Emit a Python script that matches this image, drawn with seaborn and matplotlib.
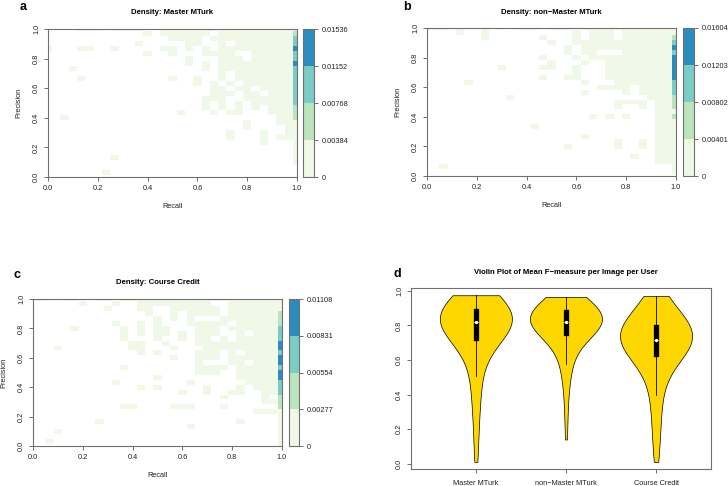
import numpy as np
import pandas as pd
import matplotlib
matplotlib.use("Agg")
import matplotlib.pyplot as plt
from matplotlib.colors import ListedColormap, BoundaryNorm
from matplotlib.cm import ScalarMappable
import seaborn as sns

plt.rcParams['font.family'] = ['Liberation Sans', 'DejaVu Sans']

# density grids: 31 x 31 cells, row 0 = precision 1.0, column 0 = recall 0.0
# '.' = empty cell, '1'..'4' = colour class of the density
master_rows = [
    "....111.1111..11111111111111111",
    "............1.111111.1111111112",
    "...............1111.11111111113",
    "...........1.....11..1.11111113",
    "1...11..1.....11.1.1.1111111114",
    "............1..1...1111..111113",
    ".................1...111.111113",
    ".................1.1.1111111114",
    "...1...............1.1111111113",
    ".....................1.11111113",
    "....1..........1..1..1.11111113",
    "..................1.1.1.1111113",
    "....................11.11.11113",
    "....................111.11.1113",
    "...................111..1111113",
    "...................1.1.1.111113",
    "...................1.1.1.1.1112",
    "................1...1.11...1112",
    "..1.........................112",
    "........................1...111",
    "........................1....11",
    "......................1...1..11",
    "......................1...1.111",
    "..........................1...1",
    "..............................1",
    "..............................1",
    "........1.....................1",
    "..............................1",
    "...............................",
    ".......1.......................",
    "...............................",
]

nonmaster_rows = [
    "111.1..1.1.111.111.111111111111",
    "....1..1..........1.111.1111111",
    ".......1......1...1.111.1111112",
    "...............1..1111111111113",
    ".................1.111111111114",
    ".................1.11...1111113",
    "..............1...1.11111111114",
    "...............1...1..111111114",
    ".........1....11..1...111111114",
    "..................1...111111114",
    "..............1..11...111111114",
    ".....1.............1...11111113",
    ".....................1111.11113",
    "...................1....1.11113",
    "..........1................1112",
    ".......................1111.112",
    ".......................1..1.112",
    "............................111",
    "....................1.1.1...112",
    "............................111",
    ".............1..............111",
    "............................111",
    "...................1........111",
    ".......................1..1.111",
    ".................1.....1..1.111",
    "............................111",
    ".........................1..111",
    "............................111",
    "..1...........................1",
    "..............................1",
    "...............................",
]

course_rows = [
    "111.11..11.11111111111111111111",
    "......1...1..111111111..1111111",
    ".........1...11..111111.1111111",
    "..............1..1.1111.1111112",
    "...............1.1.1...11111112",
    "..........1..1.1...11111.111112",
    ".....1.....1.1.11...111.1111113",
    "...........1.1.11.1.111..1.1113",
    "...........1...1..1.11.1.111113",
    "............11..1...11111111114",
    "...1........11...1...1111111114",
    ".............1.1....111.1.11113",
    ".................1..111.1111114",
    "....................1...11.1114",
    "...........1........1111.111113",
    "....................111..111114",
    "...............1.........111114",
    "..........1........1......11113",
    ".............1.1.....1...1.1113",
    "..................1..1..11..113",
    ".......................1....1.2",
    "............................112",
    "...........11....111...1......2",
    "...........................1111",
    "..............................1",
    "........1................1....1",
    "...................1..........1",
    "...1..........................1",
    "..............................1",
    "..1...........................1",
    "..............................1",
]

master_breaks = [0, 0.00384, 0.00768, 0.01152, 0.01536]
nonmaster_breaks = [0, 0.00401, 0.00802, 0.01203, 0.01604]
course_breaks = [0, 0.00277, 0.00554, 0.00831, 0.01108]

axis_ticks = [0.0, 0.2, 0.4, 0.6, 0.8, 1.0]

# mean F-measure per image per user
groups = ["Master MTurk", "non\u2212Master MTurk", "Course Credit"]
f_master = [0.01, 0.10, 0.18, 0.25, 0.31, 0.36, 0.40, 0.44, 0.47,
            0.51, 0.54, 0.57, 0.60, 0.62, 0.64, 0.66, 0.68, 0.70, 0.72,
            0.725, 0.73, 0.74, 0.745, 0.75, 0.755, 0.76, 0.765, 0.77, 0.775,
            0.78, 0.785, 0.79, 0.79, 0.795, 0.80, 0.80, 0.805, 0.81, 0.81, 0.815,
            0.82, 0.82, 0.825, 0.83, 0.83, 0.835, 0.84, 0.84, 0.845, 0.85,
            0.85, 0.855, 0.86, 0.86, 0.865, 0.87, 0.87, 0.875, 0.88, 0.88,
            0.885, 0.89, 0.895, 0.90, 0.905, 0.91, 0.915, 0.92, 0.925, 0.93,
            0.935, 0.94, 0.945, 0.95, 0.955, 0.96, 0.965, 0.97, 0.97, 0.975]
f_nonmaster = [0.14, 0.26, 0.35, 0.42, 0.47, 0.51, 0.54,
               0.575, 0.59, 0.61, 0.63, 0.65, 0.67, 0.69, 0.70, 0.71, 0.72, 0.73, 0.74,
               0.75, 0.755, 0.76, 0.765, 0.77, 0.775, 0.78, 0.785, 0.79, 0.79,
               0.795, 0.80, 0.80, 0.805, 0.805, 0.81, 0.81, 0.815, 0.815, 0.82, 0.82,
               0.82, 0.825, 0.825, 0.83, 0.83, 0.835, 0.84, 0.84, 0.845, 0.85,
               0.85, 0.855, 0.855, 0.86, 0.86, 0.865, 0.865, 0.87, 0.87, 0.875,
               0.88, 0.885, 0.89, 0.89, 0.895, 0.90, 0.905, 0.91, 0.915, 0.92,
               0.925, 0.93, 0.935, 0.94, 0.945, 0.95, 0.955, 0.96, 0.96, 0.965]
f_course = [0.01, 0.07, 0.13, 0.18, 0.23, 0.27, 0.31, 0.35,
            0.395, 0.42, 0.45, 0.48, 0.50, 0.52, 0.54, 0.56, 0.58, 0.60, 0.615, 0.625,
            0.635, 0.64, 0.645, 0.65, 0.655, 0.66, 0.665, 0.67, 0.675, 0.68,
            0.685, 0.69, 0.69, 0.695, 0.70, 0.70, 0.705, 0.71, 0.71, 0.715,
            0.72, 0.72, 0.725, 0.73, 0.73, 0.735, 0.74, 0.745, 0.75, 0.75,
            0.755, 0.76, 0.765, 0.77, 0.77, 0.775, 0.78, 0.785, 0.785, 0.79,
            0.795, 0.80, 0.81, 0.815, 0.82, 0.83, 0.835, 0.84, 0.85, 0.86,
            0.865, 0.87, 0.88, 0.89, 0.90, 0.91, 0.92, 0.935, 0.95, 0.97]

GNBU4 = ['#f0f9e8', '#bae4bc', '#7bccc4', '#2b8cbe']
cmap = ListedColormap(GNBU4)
W, H = 728, 486
TXT = '#222222'
EDGE = '#707070'
SMALL = 5.3


def rect(x0, y0, x1, y1):
    """pixel box (top-left origin) -> figure fraction"""
    return [x0 / W, 1 - y1 / H, (x1 - x0) / W, (y1 - y0) / H]


def r_style(ax):
    for s in ax.spines.values():
        s.set_visible(True)
        s.set_color(EDGE)
        s.set_linewidth(0.8)
    ax.tick_params(direction='out', length=3.2, width=0.6, color='#555555',
                   labelsize=SMALL, labelcolor=TXT, pad=2.5)
    for lab in ax.get_yticklabels():
        lab.set_rotation(90)
        lab.set_va('center')


def density_panel(fig, ax_box, cb_box, rows, breaks, title, letter, title_xy, letter_xy):
    ax = fig.add_axes(rect(*ax_box))
    vals = np.array([[np.nan if c == '.' else float(c) for c in r] for r in rows])
    sns.heatmap(vals, ax=ax, cmap=cmap, vmin=0.5, vmax=4.5, cbar=False,
                xticklabels=False, yticklabels=False)
    n = vals.shape[1] - 1
    ax.set_xlim(0.5, n + 0.5)
    ax.set_ylim(n + 0.5, 0.5)
    ax.set_xticks([0.5 + n * t for t in axis_ticks])
    ax.set_xticklabels([f"{t:.1f}" for t in axis_ticks])
    ax.set_yticks([0.5 + n * (1 - t) for t in axis_ticks])
    ax.set_yticklabels([f"{t:.1f}" for t in axis_ticks])
    ax.set_xlabel("Recall", fontsize=SMALL, color=TXT, labelpad=8)
    ax.set_ylabel("Precision", fontsize=SMALL, color=TXT, labelpad=8)
    r_style(ax)

    cax = fig.add_axes(rect(*cb_box))
    sm = ScalarMappable(norm=BoundaryNorm(breaks, cmap.N), cmap=cmap)
    cb = fig.colorbar(sm, cax=cax, ticks=breaks)
    cb.ax.set_yticklabels([f"{b:g}" for b in breaks])
    cb.outline.set_edgecolor(EDGE)
    cb.outline.set_linewidth(0.8)
    cax.tick_params(direction='out', length=3.2, width=0.6, color='#555555',
                    labelsize=SMALL, labelcolor=TXT, pad=2.5)

    fig.text(title_xy[0] / W, 1 - title_xy[1] / H, title, ha='center', va='center',
             fontsize=5.6, fontweight='bold', color='black')
    fig.text(letter_xy[0] / W, 1 - letter_xy[1] / H, letter, ha='center', va='center',
             fontsize=9, fontweight='bold', color='black')
    return ax


fig = plt.figure(figsize=(7.28, 4.86), dpi=100)

density_panel(fig, (48, 29, 297, 177), (303, 29, 314, 177), master_rows, master_breaks,
              "Density: Master MTurk", "a", (172, 13), (23, 7))
density_panel(fig, (427, 28, 676, 176), (683, 28, 694, 176), nonmaster_rows, nonmaster_breaks,
              "Density: non\u2212Master MTurk", "b", (551, 12), (407, 7))
density_panel(fig, (33, 299, 282, 446), (289, 299, 299, 446), course_rows, course_breaks,
              "Density: Course Credit", "c", (158, 282), (17, 275))

# violin panel
axd = fig.add_axes(rect(411, 288, 711, 469))
scores = [f_master, f_nonmaster, f_course]
df = pd.DataFrame({
    "group": np.repeat(groups, [len(s) for s in scores]),
    "value": np.concatenate(scores),
})
sns.violinplot(data=df, x="group", y="value", order=groups, ax=axd,
               color="#FFD700", saturation=1, linecolor="black", linewidth=0.5,
               cut=0, density_norm="width", width=0.8, bw_adjust=1.4, inner="box",
               inner_kws=dict(box_width=3.8, whis_width=0.6))
axd.scatter(range(len(groups)), [np.median(s) for s in scores], s=6,
            color="white", zorder=5, linewidths=0)
axd.set_xlim(-0.72, 2.61)
axd.set_ylim(-0.031, 1.017)
axd.set_yticks(axis_ticks)
axd.set_yticklabels([f"{t:.1f}" for t in axis_ticks])
axd.set_xlabel("")
axd.set_ylabel("")
r_style(axd)
axd.tick_params(axis='x', pad=4.5)
fig.text(566 / W, 1 - 272 / H, "Violin Plot of Mean F\u2212measure per Image per User",
         ha='center', va='center', fontsize=5.6, fontweight='bold', color='black')
fig.text(397 / W, 1 - 274 / H, "d", ha='center', va='center',
         fontsize=9, fontweight='bold', color='black')

fig.savefig("out.png", dpi=100)
